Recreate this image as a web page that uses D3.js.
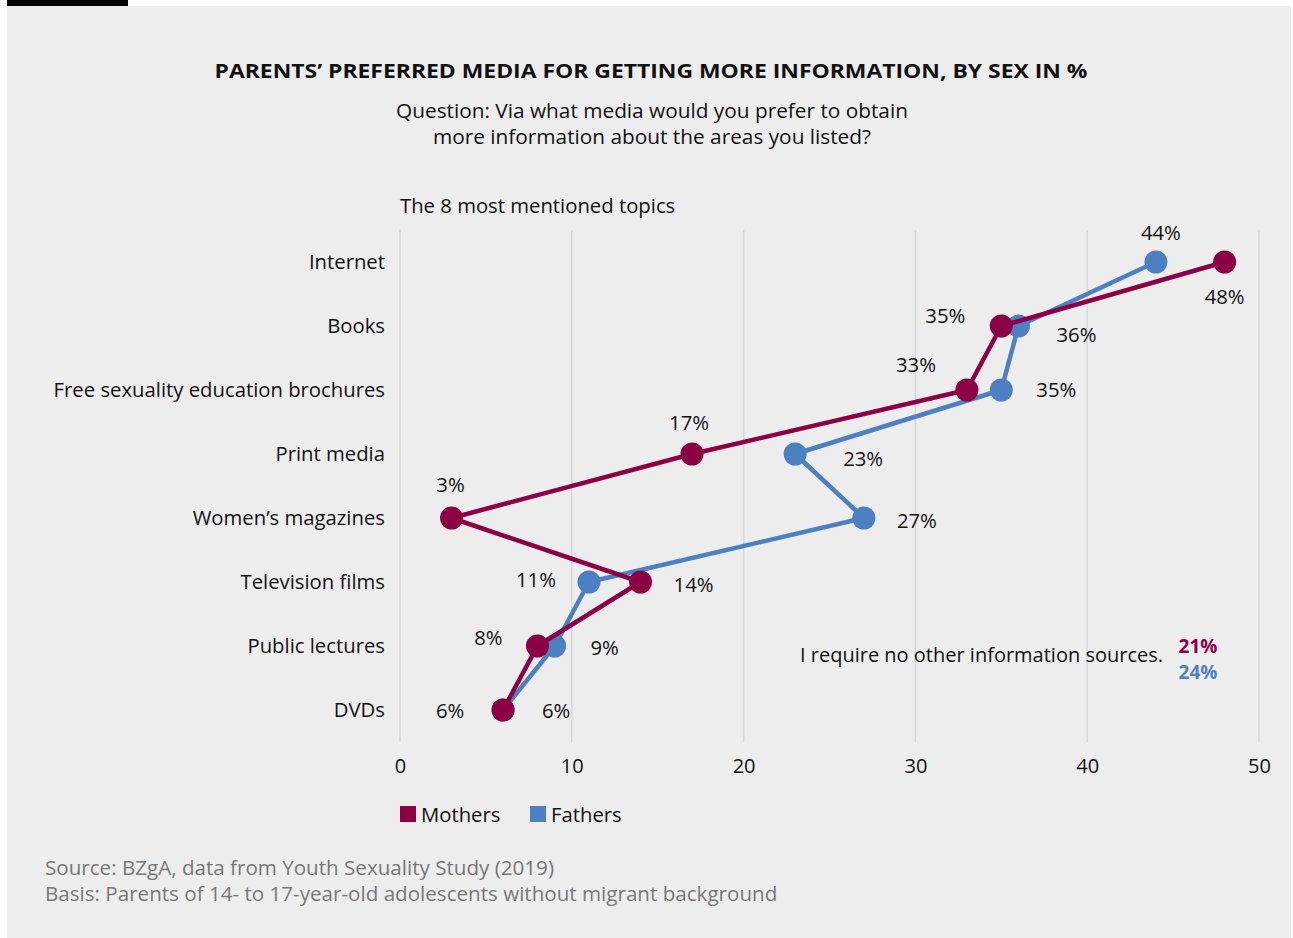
<!DOCTYPE html>
<html>
<head>
<meta charset="utf-8">
<script src="https://cdn.jsdelivr.net/npm/d3@7"></script>
<style>
  html, body { margin: 0; padding: 0; background: #ffffff; }
  svg { display: block; font-family: "Open Sans", Lato, sans-serif; }
</style>
</head>
<body>
<svg id="chart" width="1293" height="938"></svg>
<script>
// Media categories, top to bottom
const categories = [
  "Internet",
  "Books",
  "Free sexuality education brochures",
  "Print media",
  "Women\u2019s magazines",
  "Television films",
  "Public lectures",
  "DVDs"
];
// Share in % per category
const mothers = [48, 35, 33, 17, 3, 14, 8, 6];
const fathers = [44, 36, 35, 23, 27, 11, 9, 6];
// "No other sources needed" answer
const noOtherMothers = 21;
const noOtherFathers = 24;
const xTicks = [0, 10, 20, 30, 40, 50];

// Where each value label sits around its marker (dx, dy offsets)
const motherLabelOffsets = [[0, 35], [-56, -10], [-51, -25], [-3, -31], [-1, -33], [53, 3], [-49, -8], [-53, 1]];
const fatherLabelOffsets = [[5, -29], [58, 9], [55, 0], [68, 5], [53, 3], [-53, -2], [50, 2], [53, 1]];

const colMothers = "#8c0045";
const colFathers = "#4d80c2";
const font = "'Open Sans', Lato, sans-serif";
const fs = 20.3;

const svg = d3.select("#chart");

// panel background and top accent bar
svg.append("rect").attr("x", 7).attr("y", 6).attr("width", 1284).attr("height", 932).attr("fill", "#ededed");
svg.append("rect").attr("x", 7).attr("y", 0).attr("width", 121).attr("height", 6).attr("fill", "#000");

const x = d3.scaleLinear().domain([0, 50]).range([400, 1259]);
const y = d3.scaleBand().domain(categories).range([230, 742]);
const yc = c => y(c) + y.bandwidth() / 2;

// titles
svg.append("text").attr("x", 651).attr("y", 78).attr("text-anchor", "middle")
  .attr("font-size", 19.5).attr("font-weight", 700).attr("fill", "#111")
  .attr("textLength", 873).attr("lengthAdjust", "spacingAndGlyphs")
  .text("PARENTS\u2019 PREFERRED MEDIA FOR GETTING MORE INFORMATION, BY SEX IN %");
svg.append("text").attr("x", 652).attr("y", 118).attr("text-anchor", "middle")
  .attr("font-size", 20.8).attr("fill", "#111")
  .text("Question: Via what media would you prefer to obtain");
svg.append("text").attr("x", 652).attr("y", 144).attr("text-anchor", "middle")
  .attr("font-size", 20.8).attr("fill", "#111")
  .text("more information about the areas you listed?");
svg.append("text").attr("x", 400).attr("y", 213)
  .attr("font-size", fs).attr("fill", "#111")
  .text("The 8 most mentioned topics");

// vertical grid lines
svg.append("g").selectAll("line").data(xTicks).join("line")
  .attr("x1", d => x(d)).attr("x2", d => x(d))
  .attr("y1", 230).attr("y2", 742)
  .attr("stroke", "#d8d8d8").attr("stroke-width", 1.5);

// x axis
const xAxis = svg.append("g").attr("transform", "translate(0,742)")
  .call(d3.axisBottom(x).tickValues(xTicks).tickSize(0).tickPadding(17).tickFormat(d3.format("d")));
xAxis.select(".domain").remove();
xAxis.selectAll("text").attr("font-size", 20).attr("fill", "#111").attr("font-family", font);

// y axis (category labels)
const yAxis = svg.append("g").attr("transform", "translate(385,0)")
  .call(d3.axisLeft(y).tickSize(0).tickPadding(0));
yAxis.select(".domain").remove();
yAxis.selectAll("text").attr("font-size", fs).attr("fill", "#111").attr("font-family", font);

function drawSeries(values, color, offsets) {
  const pts = categories.map((c, i) => ({ c, v: values[i], o: offsets[i] }));
  const line = d3.line().x(d => x(d.v)).y(d => yc(d.c));
  const g = svg.append("g");
  g.append("path").datum(pts).attr("d", line)
    .attr("fill", "none").attr("stroke", color).attr("stroke-width", 4.5)
    .attr("stroke-linejoin", "round");
  g.selectAll("circle").data(pts).join("circle")
    .attr("cx", d => x(d.v)).attr("cy", d => yc(d.c)).attr("r", 11.5)
    .attr("fill", color);
  return pts;
}

const fPts = drawSeries(fathers, colFathers, fatherLabelOffsets);
const mPts = drawSeries(mothers, colMothers, motherLabelOffsets);

// value labels
svg.append("g").selectAll("text").data(fPts.concat(mPts)).join("text")
  .attr("x", d => x(d.v) + d.o[0]).attr("y", d => yc(d.c) + d.o[1])
  .attr("dy", "0.35em").attr("text-anchor", "middle")
  .attr("font-size", fs).attr("fill", "#111")
  .text(d => d.v + "%");

// note on respondents needing no other sources
svg.append("text").attr("x", 1163).attr("y", 662).attr("text-anchor", "end")
  .attr("font-size", 20).attr("fill", "#111")
  .text("I require no other information sources.");
svg.append("text").attr("x", 1198).attr("y", 652.5).attr("text-anchor", "middle")
  .attr("font-size", 19).attr("font-weight", 700).attr("fill", colMothers)
  .text(noOtherMothers + "%");
svg.append("text").attr("x", 1198).attr("y", 679).attr("text-anchor", "middle")
  .attr("font-size", 19).attr("font-weight", 700).attr("fill", colFathers)
  .text(noOtherFathers + "%");

// legend
const legend = [["Mothers", colMothers], ["Fathers", colFathers]];
const lg = svg.append("g").selectAll("g").data(legend).join("g")
  .attr("transform", (d, i) => `translate(${400 + i * 130},806)`);
lg.append("rect").attr("width", 16).attr("height", 16).attr("fill", d => d[1]);
lg.append("text").attr("x", 21).attr("y", 15.5).attr("font-size", fs).attr("fill", "#111").text(d => d[0]);

// source notes
svg.append("text").attr("x", 45).attr("y", 875).attr("font-size", 20.6).attr("fill", "#777")
  .text("Source: BZgA, data from Youth Sexuality Study (2019)");
svg.append("text").attr("x", 45).attr("y", 901).attr("font-size", 20.6).attr("fill", "#777")
  .text("Basis: Parents of 14- to 17-year-old adolescents without migrant background");
</script>
</body>
</html>
